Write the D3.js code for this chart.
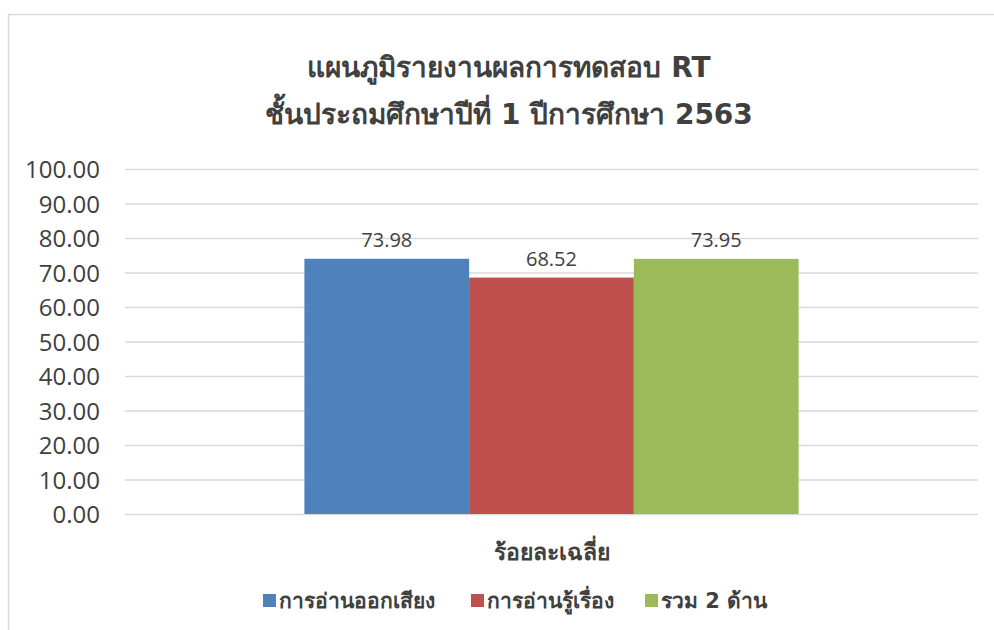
<!DOCTYPE html>
<html>
<head>
<meta charset="utf-8">
<script src="https://cdn.jsdelivr.net/npm/d3@7"></script>
<style>
  body { margin: 0; background: #fff; }
  svg text { font-family: Tahoma, "DejaVu Sans", "Noto Sans", sans-serif; fill: #404040; }
  svg .num { font-family: "Open Sans", "Noto Sans", sans-serif; }
</style>
</head>
<body>
<svg id="chart" width="994" height="630"></svg>
<script>
// data
var titleLines = ['แผนภูมิรายงานผลการทดสอบ RT', 'ชั้นประถมศึกษาปีที่ 1 ปีการศึกษา 2563']
var categories = ['ร้อยละเฉลี่ย']
var seriesNames = ['การอ่านออกเสียง', 'การอ่านรู้เรื่อง', 'รวม 2 ด้าน']
var seriesValues = [73.98, 68.52, 73.95]
var seriesColors = ['#4F81BD', '#C0504D', '#9BBB59']
var yTicks = [0, 10, 20, 30, 40, 50, 60, 70, 80, 90, 100]

var svg = d3.select('#chart')

var plot = { left: 125, right: 978, top: 169, bottom: 514 }

// chart frame (continues past the picture on the right and bottom)
svg.append('rect')
    .attr('x', 8.5)
    .attr('y', 14.5)
    .attr('width', 1100)
    .attr('height', 1000)
    .attr('fill', 'none')
    .attr('stroke', '#D9D9D9')
    .attr('stroke-width', 1.5)

var y = d3.scaleLinear()
    .domain([0, 100])
    .range([plot.bottom, plot.top])

var x0 = d3.scaleBand()
    .domain(categories)
    .range([plot.left, plot.right])
    .paddingInner(0)
    .paddingOuter(0.363)

var x1 = d3.scaleBand()
    .domain(seriesNames)
    .range([0, x0.bandwidth()])

// grid + y labels
var yAxis = d3.axisLeft(y)
    .tickValues(yTicks)
    .tickFormat(d3.format('.2f'))
    .tickSize(-(plot.right - plot.left))
    .tickPadding(25)

svg.append('g')
    .attr('transform', 'translate(' + plot.left + ',0)')
    .call(yAxis)
    .call(g => g.select('.domain').remove())
    .call(g => g.selectAll('.tick line').attr('stroke', '#D9D9D9').attr('stroke-width', 1.5))
    .call(g => g.selectAll('.tick text')
        .attr('class', 'num')
        .attr('font-size', 24)
        .attr('dy', '0.36em')
        .style('fill', '#404040'))

// bars
var groups = svg.selectAll('.cat')
    .data(categories)
    .join('g')
    .attr('class', 'cat')
    .attr('transform', d => 'translate(' + x0(d) + ',0)')

groups.selectAll('.bar')
    .data(seriesNames.map((s, i) => ({ name: s, value: seriesValues[i], color: seriesColors[i] })))
    .join('rect')
    .attr('class', 'bar')
    .attr('x', d => x1(d.name))
    .attr('y', d => y(d.value))
    .attr('width', x1.bandwidth())
    .attr('height', d => y(0) - y(d.value))
    .attr('fill', d => d.color)

groups.selectAll('.val')
    .data(seriesNames.map((s, i) => ({ name: s, value: seriesValues[i] })))
    .join('text')
    .attr('class', 'val num')
    .attr('x', d => x1(d.name) + x1.bandwidth() / 2)
    .attr('y', d => y(d.value) - 12)
    .attr('text-anchor', 'middle')
    .attr('font-size', 20)
    .text(d => d3.format('.2f')(d.value))

// category label
svg.selectAll('.cat-label')
    .data(categories)
    .join('text')
    .attr('class', 'cat-label')
    .attr('x', d => x0(d) + x0.bandwidth() / 2)
    .attr('y', 560)
    .attr('text-anchor', 'middle')
    .attr('font-size', 23)
    .attr('font-weight', 'bold')
    .text(d => d)

// title
svg.append('text')
    .attr('x', 509)
    .attr('text-anchor', 'middle')
    .attr('font-size', 28)
    .attr('font-weight', 'bold')
    .selectAll('tspan')
    .data(titleLines)
    .join('tspan')
    .attr('x', 509)
    .attr('y', (d, i) => 77 + i * 47)
    .text(d => d)

// legend
var legendX = [263, 471, 645]
var legend = svg.selectAll('.legend')
    .data(seriesNames)
    .join('g')
    .attr('class', 'legend')
    .attr('transform', (d, i) => 'translate(' + legendX[i] + ',594)')

legend.append('rect')
    .attr('width', 13)
    .attr('height', 13)
    .attr('fill', (d, i) => seriesColors[i])

legend.append('text')
    .attr('x', 16)
    .attr('y', 14)
    .attr('font-size', 21)
    .attr('font-weight', 'bold')
    .text(d => d)
</script>
</body>
</html>
